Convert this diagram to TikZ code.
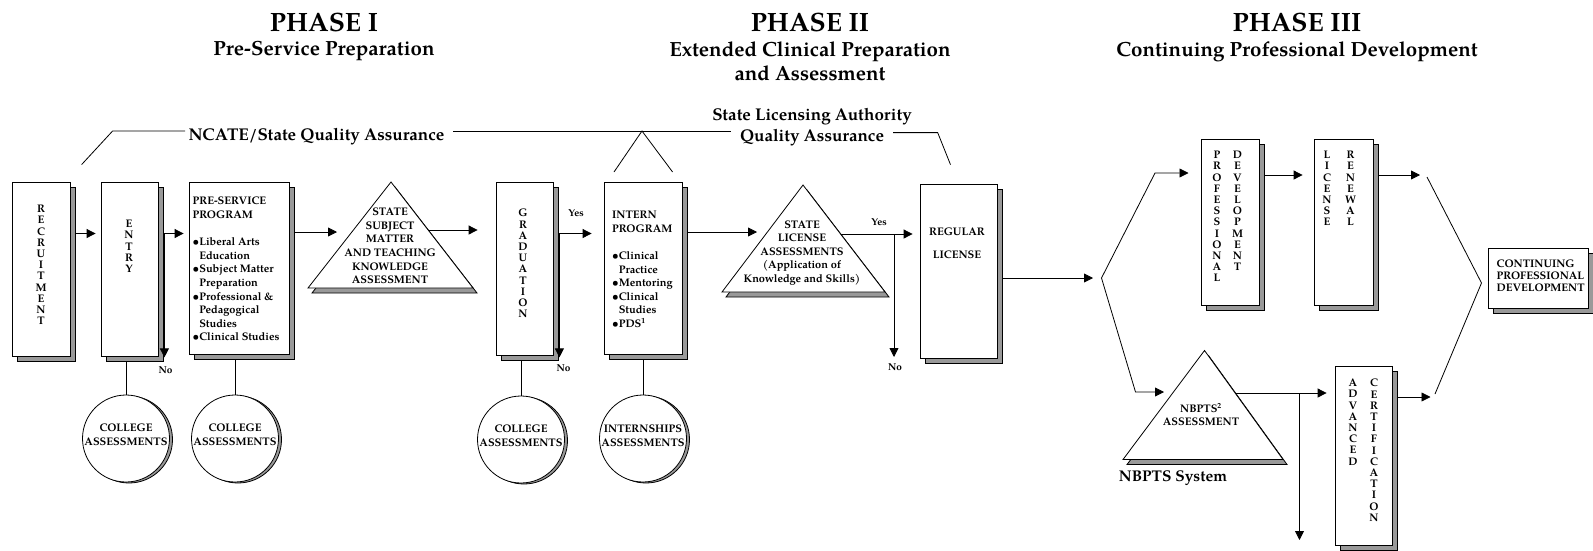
\documentclass[tikz,border=0pt]{standalone}
\usepackage{fontspec}
\setmainfont{TeX Gyre Pagella}
\usetikzlibrary{shadows,arrows.meta,calc}
\begin{document}
\begin{tikzpicture}[x=1pt,y=-1pt,
  lw/.style={line width=0.8pt},
  box/.style={draw, fill=white, line width=0.8pt, inner sep=0pt,
     copy shadow={shadow xshift=5pt, shadow yshift=-5pt, fill=black!40, draw=black, line width=0.8pt}},
  circ/.style={circle, draw, fill=white, line width=0.8pt, inner sep=0pt, minimum size=87pt,
     copy shadow={shadow xshift=3pt, shadow yshift=-1pt, fill=black!40, draw=black, line width=0.8pt}},
  arr/.style={line width=0.8pt, -{Triangle[length=9pt,width=9pt]}},
  vt/.style={font=\fontsize{11}{11.2}\selectfont\bfseries, align=center, inner sep=0pt, anchor=north},
  bt/.style={font=\fontsize{11}{13.6}\selectfont\bfseries, align=left, inner sep=0pt, anchor=north west},
  ct/.style={font=\fontsize{11}{13.6}\selectfont\bfseries, align=center, inner sep=0pt},
  yn/.style={font=\fontsize{10}{11}\selectfont\bfseries, inner sep=0pt},
  cirt/.style={font=\fontsize{11}{14}\selectfont\bfseries, align=center, inner sep=0pt},
  ttl/.style={font=\fontsize{26.5}{30}\selectfont\bfseries, inner sep=0pt, anchor=base},
  sub/.style={font=\fontsize{20.5}{24}\selectfont\bfseries, inner sep=0pt, anchor=base},
  qa/.style={font=\fontsize{17}{21}\selectfont\bfseries, inner sep=0pt, anchor=base},
  tri/.style={draw, fill=white, line width=0.8pt},
  trish/.style={draw, fill=black!40, line width=0.8pt}
]
\useasboundingbox (0,0) rectangle (1593,550);

% titles
\node[ttl] (ph1) at (324,31) {PHASE I};
\node[sub] (ps1) at (324,55.5) {Pre-Service Preparation};
\node[ttl] (ph2) at (810,31) {PHASE II};
\node[sub] (ps2a) at (810,56) {Extended Clinical Preparation};
\node[sub] (ps2b) at (810,80.5) {and Assessment};
\node[ttl] (ph3) at (1297,31.5) {PHASE III};
\node[sub] (ps3) at (1297,56) {Continuing Professional Development};

% quality assurance
\node[qa] (ncate) at (316.5,140) {NCATE/State Quality Assurance};
\node[qa] (sla1) at (812,120) {State Licensing Authority};
\node[qa] (sla2) at (812,141.5) {Quality Assurance};
\draw[lw] (81.6,164.6) -- (112.6,131) -- (185,131);
\draw[lw] (453,131) -- (731,131);
\draw[lw] (614,172) -- (642,131) -- (672.6,172);
\draw[lw] (893,132.6) -- (937.7,132.6) -- (950.5,164.6);

% boxes
\node[box, minimum width=58pt, minimum height=174pt] (rec) at (41,269) {};
\node[box, minimum width=57pt, minimum height=174pt] (ent) at (129.5,269) {};
\node[box, minimum width=100pt, minimum height=172pt] (pre) at (239,268) {};
\node[box, minimum width=57pt, minimum height=173pt] (grad) at (524.5,268.5) {};
\node[box, minimum width=78pt, minimum height=172pt] (intern) at (643,268) {};
\node[box, minimum width=77pt, minimum height=174pt] (reg) at (958.5,271) {};
\node[box, minimum width=58pt, minimum height=166pt] (pd) at (1230,222) {};
\node[box, minimum width=59pt, minimum height=166pt] (lr) at (1343.5,222) {};
\node[box, minimum width=57pt, minimum height=179pt] (ac) at (1363.5,455.5) {};
\node[box, minimum width=100pt, minimum height=60pt] (cpd) at (1538,278) {};

% box texts
\node[vt] (rect) at (41,205) {R\\E\\C\\R\\U\\I\\T\\M\\E\\N\\T};
\node[vt] (entt) at (129,220) {E\\N\\T\\R\\Y};
\node[bt] (pret) at (192.5,197) {PRE-SERVICE\\PROGRAM\\[13.6pt]•Liberal Arts\\\hphantom{•}Education\\•Subject Matter\\\hphantom{•}Preparation\\•Professional \&\\\hphantom{•}Pedagogical\\\hphantom{•}Studies\\•Clinical Studies};
\node[vt] (gradt) at (523,209) {G\\R\\A\\D\\U\\A\\T\\I\\O\\N};
\node[bt] (intt) at (612,211) {INTERN\\PROGRAM\\[13.6pt]•Clinical\\\hphantom{•}Practice\\•Mentoring\\•Clinical\\\hphantom{•}Studies\\•PDS\textsuperscript{1}};
\node[ct, font=\fontsize{11}{23}\selectfont\bfseries] (regt) at (957,243.5) {REGULAR\\LICENSE};
\node[vt] (pdt1) at (1217,151) {P\\R\\O\\F\\E\\S\\S\\I\\O\\N\\A\\L};
\node[vt] (pdt2) at (1237.5,151) {D\\E\\V\\E\\L\\O\\P\\M\\E\\N\\T};
\node[vt] (lrt1) at (1327,151) {L\\I\\C\\E\\N\\S\\E};
\node[vt] (lrt2) at (1350.5,151) {R\\E\\N\\E\\W\\A\\L};
\node[vt] (act1) at (1353,379) {A\\D\\V\\A\\N\\C\\E\\D};
\node[vt] (act2) at (1374,379) {C\\E\\R\\T\\I\\F\\I\\C\\A\\T\\I\\O\\N};
\node[bt, font=\fontsize{11}{12}\selectfont\bfseries] (cpdt) at (1496.5,259.5) {CONTINUING\\PROFESSIONAL\\DEVELOPMENT};

% triangles
\filldraw[trish] (395,187) -- (312,293) -- (477,293) -- cycle;
\filldraw[tri] (391,182) -- (308,288) -- (473,288) -- cycle;
\node[ct] (t1) at (390,246) {STATE\\SUBJECT\\MATTER\\AND TEACHING\\KNOWLEDGE\\ASSESSMENT};
\filldraw[trish] (807,190) -- (726,297) -- (889,297) -- cycle;
\filldraw[tri] (803,185) -- (722,292) -- (885,292) -- cycle;
\node[ct] (t2) at (802,253) {STATE\\LICENSE\\ASSESSMENTS\\(Application of\\Knowledge and Skills)};
\filldraw[trish] (1208.5,355.5) -- (1127,464.5) -- (1287,464.5) -- cycle;
\filldraw[tri] (1204.5,350.5) -- (1123,459.5) -- (1283,459.5) -- cycle;
\node[ct, font=\fontsize{11}{13}\selectfont\bfseries] (t3) at (1201,414.5) {NBPTS\textsuperscript{2}\\ASSESSMENT};
\node[font=\fontsize{15.5}{17}\selectfont\bfseries, inner sep=0pt] (nbs) at (1173,478.5) {NBPTS System};

% circles
\node[circ] (c1) at (126,438.5) {};
\node[cirt] (c1t) at (126,435) {COLLEGE\\ASSESSMENTS};
\node[circ] (c2) at (235,438.5) {};
\node[cirt] (c2t) at (235,435) {COLLEGE\\ASSESSMENTS};
\node[circ] (c3) at (521,439.5) {};
\node[cirt] (c3t) at (521,436) {COLLEGE\\ASSESSMENTS};
\node[circ] (c4) at (643,438.5) {};
\node[cirt] (c4t) at (643,436) {INTERNSHIPS\\ASSESSMENTS};

\draw[lw] ($(c1.north |- ent.south)+(0,5)$) -- (c1.north);
\draw[lw] ($(c2.north |- pre.south)+(0,5)$) -- (c2.north);
\draw[lw] ($(c3.north |- grad.south)+(0,5)$) -- (c3.north);
\draw[lw] ($(c4.north |- intern.south)+(0,5)$) -- (c4.north);

% connectors
\coordinate (ya) at (0,233.5);
\draw[arr] ($(rec.east |- ya)+(5,0)$) -- ($(ent.west |- ya)+(-5,0)$);
\draw[arr] ($(ent.east |- ya)+(6,0)$) -- ($(pre.west |- ya)+(-5,0)$);
\draw[arr] ($(ent.east |- ya)+(6,0)$) -- ($(ent.south east)+(6,1)$);
\node[yn] (no1) at (165.5,370) {No};

\coordinate (t1in) at (337,232);
\draw[arr] ($(pre.east |- t1in)+(6,0)$) -- (t1in);
\coordinate (t1out) at (428,230);
\draw[arr] (t1out) -- ($(grad.west |- t1out)+(-18,0)$);

\draw[arr] ($(grad.east |- ya)+(6,0)$) -- ($(intern.west |- ya)+(-12,0)$);
\draw[arr] ($(grad.east |- ya)+(6,0)$) -- ($(grad.south east)+(6,2)$);
\node[yn] (yes1) at (576,213) {Yes};
\node[yn] (no2) at (563.5,368) {No};

\coordinate (t2in) at (757,232);
\draw[arr] ($(intern.east |- t2in)+(5,0)$) -- (t2in);
\coordinate (t2out) at (841,234);
\draw[arr] (t2out) -- ($(reg.west |- t2out)+(-7,0)$);
\coordinate (nob) at (894,357);
\draw[arr] (nob |- t2out) -- (nob);
\node[yn] (yes2) at (879,222) {Yes};
\node[yn] (no3) at (895,367) {No};

\coordinate (bl) at (1093,278);
\draw[arr] ($(reg.east |- bl)+(5,0)$) -- (bl);
\coordinate (pdin) at (1188.5,173);
\coordinate (nbin) at (1164,392);
\draw[lw, {Triangle[length=9pt,width=9pt]}-{Triangle[length=9pt,width=9pt]}] (pdin) -- (1155,173) -- (1101.5,278) -- (1135.5,392) -- (nbin);

\coordinate (yb) at (0,175);
\draw[arr] ($(pd.east |- yb)+(5,0)$) -- ($(lr.west |- yb)+(-11,0)$);
\coordinate (brin) at (1420,175);
\draw[arr] ($(lr.east |- yb)+(5,0)$) -- (brin);
\draw[lw] (1427,177) -- (1481.5,283) -- (1435,394);

\coordinate (acout) at (1430.5,397);
\draw[arr] ($(ac.east |- acout)+(5,0)$) -- (acout);
\coordinate (t3out) at (1236,393);
\draw[arr] (t3out) -- ($(ac.west |- t3out)+(-8,0)$);
\coordinate (nob3) at (1299.5,540);
\draw[arr] (nob3 |- t3out) -- (nob3);
\end{tikzpicture}
\end{document}
